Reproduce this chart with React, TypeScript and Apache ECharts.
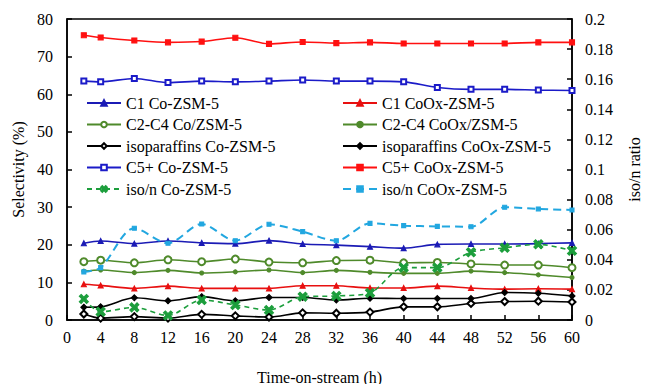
import React, { useEffect, useRef } from "react";
import * as echarts from "echarts";

const hours = [2, 4, 8, 12, 16, 20, 24, 28, 32, 36, 40, 44, 48, 52, 56, 60];

const c1Co = [20.4, 21.0, 20.3, 21.0, 20.5, 20.3, 21.1, 20.2, 19.9, 19.5, 19.1, 20.1, 20.2, 20.2, 20.3, 20.5];
const c1CoOx = [9.5, 9.2, 8.4, 9.0, 8.4, 8.4, 8.4, 9.1, 9.1, 8.5, 8.5, 9.0, 8.5, 8.2, 8.3, 8.2];
const c2c4Co = [15.5, 15.9, 15.2, 16.0, 15.5, 16.2, 15.4, 15.2, 15.8, 15.9, 15.2, 15.3, 14.9, 14.6, 14.6, 13.9];
const c2c4CoOx = [13.0, 13.3, 12.6, 13.2, 12.5, 12.8, 13.3, 12.6, 13.2, 12.7, 12.4, 12.4, 13.0, 12.6, 12.0, 11.3];
const isoCo = [1.6, 0.5, 0.9, 0.5, 1.5, 1.1, 0.8, 1.9, 1.8, 2.1, 3.5, 3.5, 4.4, 4.9, 5.0, 4.8];
const isoCoOx = [3.4, 3.5, 5.9, 5.1, 6.2, 5.1, 6.0, 6.0, 5.3, 5.8, 5.7, 5.7, 5.7, 7.3, 7.1, 6.4];
const c5Co = [63.5, 63.3, 64.2, 63.1, 63.5, 63.3, 63.5, 63.8, 63.5, 63.5, 63.3, 61.8, 61.3, 61.3, 61.1, 61.0];
const c5CoOx = [75.7, 75.1, 74.3, 73.8, 74.0, 75.0, 73.4, 73.9, 73.6, 73.8, 73.5, 73.5, 73.5, 73.5, 73.8, 73.8];
const isonCo = [0.014, 0.0055, 0.0084, 0.003, 0.0133, 0.010, 0.0066, 0.0155, 0.016, 0.018, 0.0348, 0.0348, 0.045, 0.048, 0.0503, 0.046];
const isonCoOx = [0.032, 0.0348, 0.061, 0.051, 0.0638, 0.0527, 0.0636, 0.0587, 0.0527, 0.0642, 0.0627, 0.0622, 0.062, 0.0749, 0.0738, 0.0731];

const leftNames = ["C1 Co-ZSM-5", "C2-C4 Co/ZSM-5", "isoparaffins Co-ZSM-5", "C5+ Co-ZSM-5", "iso/n Co-ZSM-5"];
const rightNames = ["C1 CoOx-ZSM-5", "C2-C4 CoOx/ZSM-5", "isoparaffins CoOx-ZSM-5", "C5+ CoOx-ZSM-5", "iso/n CoOx-ZSM-5"];

const FONT = "'Liberation Serif', 'Times New Roman', serif";
const X_SYMBOL = "path://M2,0 L5,3 L8,0 L10,2 L7,5 L10,8 L8,10 L5,7 L2,10 L0,8 L3,5 L0,2 Z";

const pairs = (vals: number[]) => hours.map((h, i) => [h, vals[i]]);

function mk(name: string, vals: number[], color: string, symbol: string, size: number, opts: any = {}) {
  return {
    name,
    type: "line",
    data: pairs(vals),
    smooth: 0.3,
    symbol,
    symbolSize: size,
    yAxisIndex: opts.yAxisIndex ?? 0,
    lineStyle: { color, width: opts.width ?? 1.6, type: opts.dash ? opts.dash : "solid" },
    itemStyle: { color, borderColor: color, borderWidth: 1.1 },
    emphasis: { disabled: true },
    z: opts.z ?? 2,
  };
}

export default function App() {
  const ref = useRef<HTMLDivElement>(null);
  useEffect(() => {
    if (!ref.current) return;
    const chart = echarts.init(ref.current, null, { renderer: "svg" });
    const legendCommon = {
      orient: "vertical",
      top: 90,
      itemWidth: 34,
      itemHeight: 7,
      itemGap: 5.5,
      textStyle: { fontFamily: FONT, fontSize: 16, color: "#000", lineHeight: 16 },
      selectedMode: false,
    };
    chart.setOption({
      animation: false,
      backgroundColor: "#fff",
      textStyle: { fontFamily: FONT },
      grid: { left: 67, right: 60, top: 19, bottom: 64, show: true, borderColor: "#000", borderWidth: 1.5, backgroundColor: "transparent" },
      legend: [
        { ...legendCommon, left: 81, data: leftNames },
        { ...legendCommon, left: 337, data: rightNames },
      ],
      xAxis: {
        type: "value",
        min: 0,
        max: 60,
        interval: 4,
        axisLine: { lineStyle: { color: "#000", width: 1.5 } },
        axisTick: { inside: true, length: 5, lineStyle: { color: "#000", width: 1.5 } },
        axisLabel: { color: "#000", fontSize: 16, fontFamily: FONT, margin: 9 },
        splitLine: { show: false },
      },
      yAxis: [
        {
          type: "value",
          min: 0,
          max: 80,
          interval: 10,
          name: "Selectivity (%)",
          nameLocation: "middle",
          nameRotate: 90,
          nameGap: 41,
          nameTextStyle: { color: "#000", fontSize: 16, fontFamily: FONT },
          axisLine: { show: true, lineStyle: { color: "#000", width: 1.5 } },
          axisTick: { show: true, inside: true, length: 5, lineStyle: { color: "#000", width: 1.5 } },
          axisLabel: { color: "#000", fontSize: 16, fontFamily: FONT, margin: 14 },
          splitLine: { show: false },
        },
        {
          type: "value",
          min: 0,
          max: 0.2,
          interval: 0.02,
          position: "right",
          name: "iso/n ratio",
          nameLocation: "middle",
          nameRotate: 90,
          nameGap: 54,
          nameTextStyle: { color: "#000", fontSize: 16, fontFamily: FONT },
          axisLine: { show: true, lineStyle: { color: "#000", width: 1.5 } },
          axisTick: { show: true, inside: true, length: 5, lineStyle: { color: "#000", width: 1.5 } },
          axisLabel: { color: "#000", fontSize: 16, fontFamily: FONT, margin: 13, formatter: (v: number) => String(Math.round(v * 100) / 100) },
          splitLine: { show: false },
        },
      ],
      graphic: [
        {
          type: "text",
          left: 257,
          top: 369,
          style: { text: "Time-on-stream (h)", fill: "#000", fontSize: 16, fontFamily: FONT },
        },
      ],
      series: [
        mk("C1 Co-ZSM-5", c1Co, "#1b1bb5", "triangle", 5),
        mk("C1 CoOx-ZSM-5", c1CoOx, "#e81010", "triangle", 5),
        mk("C2-C4 Co/ZSM-5", c2c4Co, "#4f8a2b", "emptyCircle", 7),
        mk("C2-C4 CoOx/ZSM-5", c2c4CoOx, "#4f8a2b", "circle", 4),
        mk("isoparaffins Co-ZSM-5", isoCo, "#000000", "emptyDiamond", 7),
        mk("isoparaffins CoOx-ZSM-5", isoCoOx, "#000000", "diamond", 6),
        mk("C5+ Co-ZSM-5", c5Co, "#1b1bc8", "emptyRect", 5),
        mk("C5+ CoOx-ZSM-5", c5CoOx, "#ff1010", "rect", 5),
        mk("iso/n Co-ZSM-5", isonCo, "#1c9e3c", X_SYMBOL, 9, { yAxisIndex: 1, dash: [5, 4], z: 3 }),
        mk("iso/n CoOx-ZSM-5", isonCoOx, "#22a7e0", "rect", 4, { yAxisIndex: 1, dash: [8, 5], width: 2, z: 3 }),
      ],
    });
    return () => chart.dispose();
  }, []);
  return <div ref={ref} style={{ width: 650, height: 384, position: "absolute", left: 0, top: 0, fontFamily: FONT }} />;
}
